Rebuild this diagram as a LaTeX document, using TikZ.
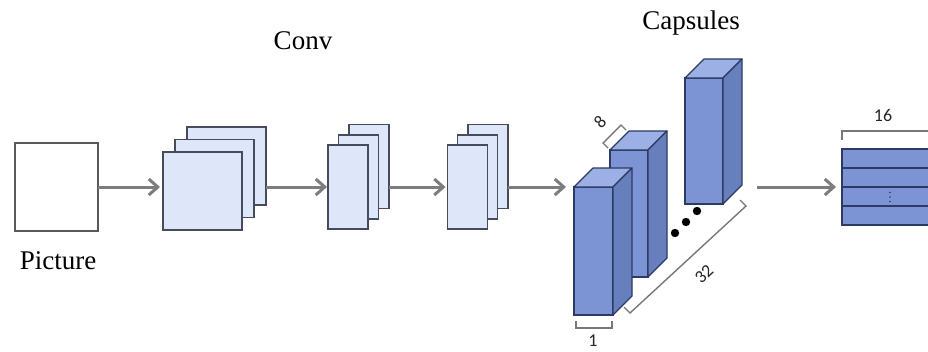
\documentclass[tikz,border=0pt]{standalone}
\usepackage{fontspec}
\setmainfont{Liberation Serif}
\newfontfamily\numfont{Carlito}
\usetikzlibrary{arrows.meta,calc}

\definecolor{flowgray}{RGB}{125,125,125}
\definecolor{mapfill}{RGB}{221,231,249}
\definecolor{mapedge}{RGB}{70,76,92}
\definecolor{capfront}{RGB}{124,148,212}
\definecolor{captop}{RGB}{156,176,229}
\definecolor{capside}{RGB}{104,127,190}
\definecolor{capedge}{RGB}{45,58,100}
\definecolor{brk}{RGB}{120,120,120}

% one capsule column: front face as a node, top and side faces behind it
\newcommand\capcolumn[4]{%
  \node[capface, minimum width=#3, minimum height=#4] (#1) at (#2) {};
  \draw[capedgestyle, fill=captop] (#1.north west) -- ($(#1.north west)+(19,-19)$)
    -- ($(#1.north east)+(19,-19)$) -- (#1.north east) -- cycle;
  \draw[capedgestyle, fill=capside] (#1.north east) -- ($(#1.north east)+(19,-19)$)
    -- ($(#1.south east)+(19,-19)$) -- (#1.south east) -- cycle;
}

\begin{document}
\begin{tikzpicture}[x=1pt,y=-1pt,
  flow/.style={draw=flowgray, line width=3pt,
    -{Straight Barb[length=9pt,width=16pt]}},
  fmap/.style={draw=mapedge, fill=mapfill, line width=1.3pt,
    inner sep=0pt, outer sep=0pt},
  bigmap/.style={fmap, minimum width=79pt, minimum height=78pt},
  slimmap/.style={fmap, minimum width=40pt, minimum height=84pt},
  capface/.style={draw=capedge, fill=capfront, line width=1.2pt,
    inner sep=0pt, outer sep=0pt},
  capedgestyle/.style={draw=capedge, line width=1.2pt, line join=round},
  bracket/.style={draw=brk, line width=1.4pt},
  title/.style={inner sep=0pt, anchor=base, font=\fontsize{27}{30}\selectfont},
  num/.style={inner sep=0pt, font=\numfont\fontsize{18}{20}\selectfont, text=black!85}
]
\clip (0,0) rectangle (928,351);
\fill[white] (0,0) rectangle (928,351);

% input image
\node[draw=black!65, fill=white, line width=1.3pt, minimum width=83pt,
  minimum height=88pt, inner sep=0pt, outer sep=0pt] (pic) at (56.5,187) {};
\node[title] (piclabel) at (58,269) {Picture};

% convolution feature maps (back to front)
\node[bigmap] (m1c) at (226.5,166) {};
\node[bigmap] (m1b) at (214.5,178.5) {};
\node[bigmap] (m1a) at (202.5,191) {};

\node[slimmap] (m2c) at (369,166.5) {};
\node[slimmap] (m2b) at (358.5,177) {};
\node[slimmap] (m2a) at (348,187) {};

\node[slimmap] (m3c) at (488,166.5) {};
\node[slimmap] (m3b) at (477.5,177) {};
\node[slimmap] (m3a) at (467.5,187) {};

\node[title] (convlabel) at (303,49) {Conv};

% primary capsules
\capcolumn{k3}{704,141}{38pt}{126pt}
\capcolumn{k2}{629,213.5}{38pt}{127pt}
\capcolumn{k1}{593.5,251}{39pt}{128pt}

\node[title] (capslabel) at (691,29) {Capsules};

\fill[black] (675,233) circle (4.2) (686,222) circle (4.2) (697,211) circle (4.2);

% capsule dimension brackets
\draw[bracket] (576,321) -- (576,328) -- (612,328) -- (612,321);
\node[num] (one) at (593,341) {1};

\draw[bracket] (608,148) -- (603,143) -- (621,125) -- (626,130);
\node[num, rotate=45] (eight) at (600,122) {8};

\draw[bracket] (624,307) -- (630,313) -- (746,206) -- (740,200);
\node[num, rotate=43] (thirtytwo) at (704,274) {32};

% output capsules
\node[capface, line width=1.6pt, minimum width=100pt, minimum height=76pt] (out) at (892,187) {};
\foreach \f in {0.25,0.5,0.75}
  \draw[capedge, line width=1.6pt] ($(out.north west)!\f!(out.south west)$)
    -- ($(out.north east)!\f!(out.south east)$);
\foreach \dy in {-4.5,0,4.5}
  \fill[capedge] ($(out.center)+(-2,10+\dy)$) circle (0.9);
\draw[bracket] (842,140) -- (842,131) -- (935,131);
\node[num] (sixteen) at (883,115) {16};

% data flow
\coordinate (capsout) at (757,187);
\draw[flow, shorten >=3pt] (pic.east) -- (pic.east -| m1a.west);
\draw[flow, shorten >=1pt] (m1c.east |- m2a.center) -- (m2a.west);
\draw[flow, shorten >=2pt] (m2c.east |- m3a.center) -- (m3a.west);
\draw[flow, shorten >=8pt] (m3c.east |- m3a.center) -- (k1.west |- m3a.center);
\draw[flow, shorten >=6pt] (capsout) -- (out.west);
\end{tikzpicture}
\end{document}
